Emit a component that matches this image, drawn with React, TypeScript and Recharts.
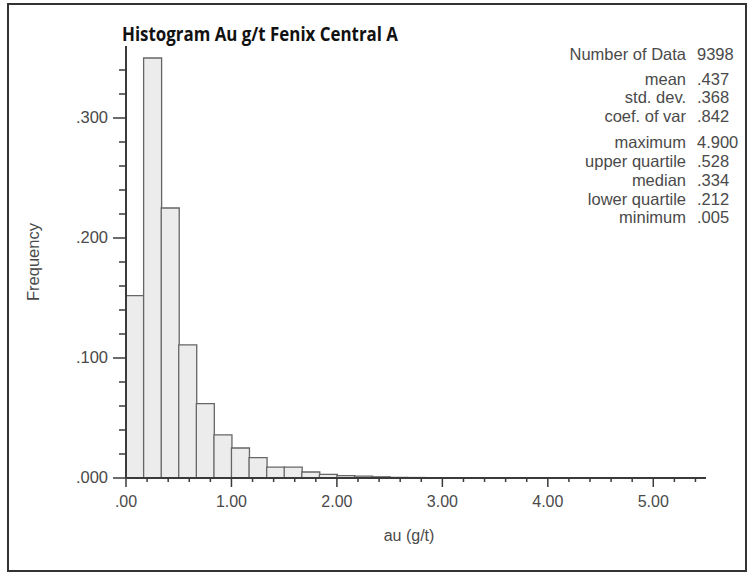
import React from "react";
import { BarChart, Bar, XAxis, YAxis, Label } from "recharts";

// bin centres (g/t), bin width 1/6
const binMids = [
  0.083, 0.25, 0.417, 0.583, 0.75, 0.917, 1.083, 1.25, 1.417, 1.583, 1.75,
  1.917, 2.083, 2.25, 2.417, 2.583, 2.75, 2.917, 3.083, 3.25, 3.417, 3.583,
  3.75, 3.917, 4.083, 4.25, 4.417, 4.583, 4.75, 4.917, 5.083, 5.25, 5.417,
];
const frequencies = [
  0.152, 0.35, 0.225, 0.111, 0.062, 0.036, 0.025, 0.017, 0.009, 0.009, 0.005,
  0.003, 0.002, 0.0015, 0.001, 0.0005, 0.0004, 0.0003, 0.0002, 0.0002, 0.0001,
  0.0001, 0.0001, 0.0001, 0.0001, 0.0001, 0, 0, 0.0001, 0.0001, 0, 0, 0,
];

const xTicks = [
  0, 0.2, 0.4, 0.6, 0.8, 1, 1.2, 1.4, 1.6, 1.8, 2, 2.2, 2.4, 2.6, 2.8, 3, 3.2,
  3.4, 3.6, 3.8, 4, 4.2, 4.4, 4.6, 4.8, 5, 5.2, 5.4,
];
const xMajor = [0, 1, 2, 3, 4, 5];
const yTicks = [
  0, 0.02, 0.04, 0.06, 0.08, 0.1, 0.12, 0.14, 0.16, 0.18, 0.2, 0.22, 0.24,
  0.26, 0.28, 0.3, 0.32, 0.34,
];
const yMajor = [0, 0.1, 0.2, 0.3];

const statLabels = [
  "Number of Data",
  "mean",
  "std. dev.",
  "coef. of var",
  "maximum",
  "upper quartile",
  "median",
  "lower quartile",
  "minimum",
];
const statValues = ["9398", ".437", ".368", ".842", "4.900", ".528", ".334", ".212", ".005"];
const statBaselines = [60, 85, 103, 122, 148, 167, 186, 205, 223];

const data = binMids.map((mid, i) => ({ mid, freq: frequencies[i] }));

const font = "'Liberation Sans', Arial, sans-serif";
const ink = "#3a3a3a";
const textInk = "#4a4a4a";

const isMajor = (list: number[], v: number) => list.some((m) => Math.abs(m - v) < 1e-6);

const XTick = (props: any) => {
  const { x, y, payload } = props;
  const major = isMajor(xMajor, payload.value);
  const label = payload.value === 0 ? ".00" : payload.value.toFixed(2);
  return (
    <g>
      <line x1={x} y1={y} x2={x} y2={y + (major ? 9 : 4)} stroke={ink} strokeWidth={1.5} />
      {major && (
        <text x={x} y={y + 29} textAnchor="middle" fontSize={16} fill={textInk} fontFamily={font}>
          {label}
        </text>
      )}
    </g>
  );
};

const YTick = (props: any) => {
  const { x, y, payload } = props;
  const major = isMajor(yMajor, payload.value);
  const label = payload.value.toFixed(3).replace(/^0/, "");
  return (
    <g>
      <line x1={x} y1={y} x2={x - (major ? 13 : 7)} y2={y} stroke={ink} strokeWidth={1.5} />
      {major && (
        <text x={x - 18} y={y + 5} textAnchor="end" fontSize={16.5} fill={textInk} fontFamily={font}>
          {label}
        </text>
      )}
    </g>
  );
};

export default function App() {
  return (
    <div style={{ position: "absolute", left: 0, top: 0, width: 749, height: 574, background: "#fff" }}>
      <svg width={749} height={574} style={{ position: "absolute", left: 0, top: 0 }}>
        <rect x={8} y={4} width={738} height={567} fill="none" stroke="#333" strokeWidth={2} />
        <text
          x={122}
          y={41}
          fontSize={20}
          fontWeight="bold"
          fill="#111"
          fontFamily="'Open Sans', sans-serif"
          textLength={276}
          lengthAdjust="spacingAndGlyphs"
        >
          Histogram Au g/t Fenix Central A
        </text>
        {statLabels.map((s, i) => (
          <g key={s} fontFamily={font} fontSize={16.5} fill={textInk}>
            <text x={686} y={statBaselines[i]} textAnchor="end">
              {s}
            </text>
            <text x={697} y={statBaselines[i]}>
              {statValues[i]}
            </text>
          </g>
        ))}
      </svg>
      <div style={{ position: "absolute", left: 0, top: 0 }}>
        <BarChart
          width={749}
          height={574}
          data={data}
          margin={{ top: 46, right: 43, left: 6, bottom: 36 }}
          barCategoryGap={0}
          barGap={0}
        >
          <XAxis
            type="number"
            dataKey="mid"
            domain={[0, 5.5]}
            ticks={xTicks}
            interval={0}
            tick={<XTick />}
            tickLine={false}
            tickSize={0}
            tickMargin={0}
            height={60}
            axisLine={{ stroke: ink, strokeWidth: 2 }}
          >
            <Label
              value="au (g/t)"
              position="insideTop"
              offset={52}
              dx={-7}
              fontSize={16}
              fill={textInk}
              fontFamily={font}
            />
          </XAxis>
          <YAxis
            type="number"
            domain={[0, 0.36]}
            ticks={yTicks}
            interval={0}
            tick={<YTick />}
            tickLine={false}
            tickSize={0}
            tickMargin={0}
            width={120}
            allowDataOverflow
            axisLine={{ stroke: ink, strokeWidth: 2 }}
          >
            <Label
              value="Frequency"
              angle={-90}
              position="insideLeft"
              offset={27}
              fontSize={16.5}
              fill={textInk}
              fontFamily={font}
              style={{ textAnchor: "middle" }}
            />
          </YAxis>
          <Bar dataKey="freq" fill="#ececec" stroke="#666" strokeWidth={1.3} isAnimationActive={false} />
        </BarChart>
      </div>
    </div>
  );
}
